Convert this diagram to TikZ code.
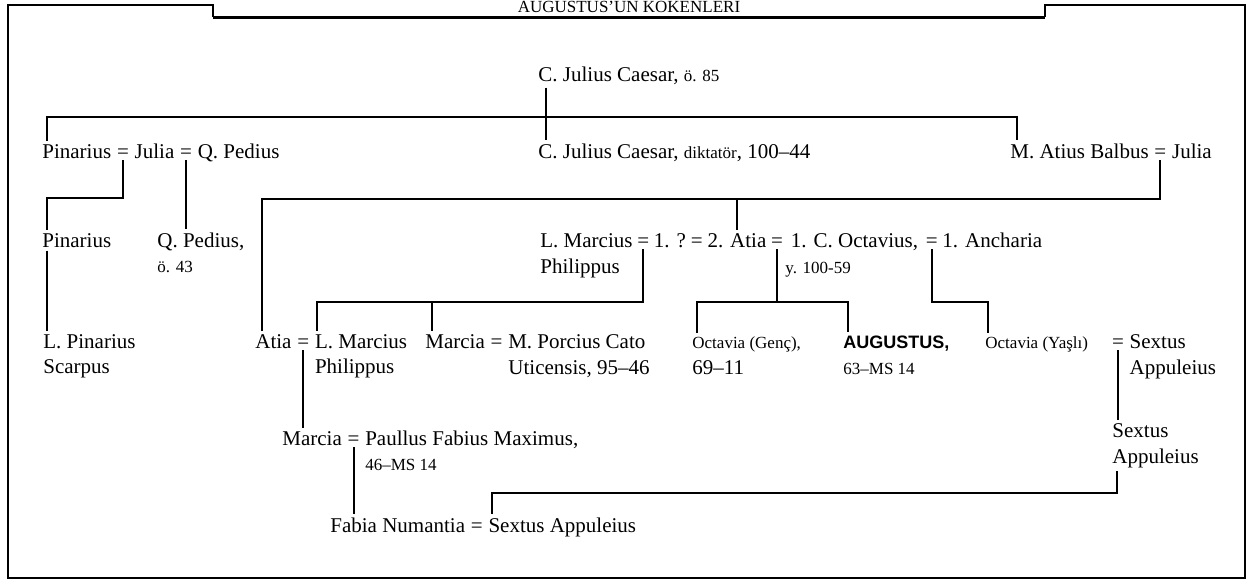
\documentclass[tikz,border=0pt]{standalone}
\usepackage{fontspec}
\setmainfont{Liberation Serif}
\newfontfamily\augfont{Liberation Sans}
\usetikzlibrary{positioning}
\newcommand{\sml}[1]{{\fontsize{8.5}{10}\selectfont #1}}
\tikzstyle{nm}=[inner xsep=0pt, inner ysep=1.5pt, anchor=base west,
		font=\fontsize{10.5}{12}\selectfont]
\tikzstyle{sm}=[inner xsep=0pt, inner ysep=1.5pt, anchor=base west,
		font=\fontsize{8.5}{10}\selectfont]
\tikzstyle{aug}=[inner xsep=0pt, inner ysep=1.5pt, anchor=base west,
		font=\augfont\bfseries\fontsize{9}{10}\selectfont]
\tikzstyle{eq}=[inner xsep=0.5pt, inner ysep=1pt, anchor=base,
		font=\fontsize{10.5}{12}\selectfont]
\tikzstyle{ttl}=[inner sep=0pt, anchor=base, font=\fontsize{8.5}{10}\selectfont]
\tikzstyle{ln}=[line width=1pt]
\tikzstyle{frm}=[line width=0.8pt]

\begin{document}
\begin{tikzpicture}[x=0.5pt, y=-0.5pt, node distance=1.5pt]
	\useasboundingbox (0,0) rectangle (1253,580);
	% frame and title
	\node[ttl] (ttl) at (629,12) {AUGUSTUS'UN KÖKENLERİ};
	\draw[frm] (213,17) -- (213,5) -- (8,5) -- (8,578) -- (1245,578) -- (1245,5) -- (1045,5) -- (1045,17);
	\draw[line width=1.5pt] (213,17) -- (1045,17);
	% generation 0 and 1
	\node[nm] (cjcA) at (538,81) {C. Julius Caesar, \sml{ö. 85}};
	\node[nm] (pinA) at (42,158) {Pinarius};
	\node[eq, base right=2pt of pinA] (eqA1) {=};
	\node[nm, base right=2pt of eqA1] (juliaA) {Julia};
	\node[eq, base right=2pt of juliaA] (eqA2) {=};
	\node[nm, base right=2pt of eqA2] (pedA) {Q. Pedius};
	\node[nm] (cjcB) at (538,158) {C. Julius Caesar, \sml{diktatör}, 100–44};
	\node[nm] (balbus) at (1010,158) {M. Atius Balbus};
	\node[eq, base right=2pt of balbus] (eqB) {=};
	\node[nm, base right=2pt of eqB] (juliaB) {Julia};
	% generation 2
	\node[nm] (pinB) at (42,247) {Pinarius};
	\node[nm] (pedB) at (157,247) {Q. Pedius,};
	\node[sm] (pedBd) at (157,272) {ö. 43};
	\node[nm] (marc) at (540,247) {L. Marcius};
	\node[nm] (marcB) at (540,273) {Philippus};
	\node[eq, base right=of marc] (eqC1) {=};
	\node[nm, base right=of eqC1] (unk) {1. ?};
	\node[eq, base right=of unk] (eqC2) {=};
	\node[nm, base right=of eqC2] (atiaA) {2. Atia};
	\node[eq, base right=of atiaA] (eqC3) {=};
	\node[nm, base right=3pt of eqC3] (octv) {1. C. Octavius,};
	\node[sm] (octvd) at (785,273) {y. 100-59};
	\node[eq, base right=3pt of octv] (eqC4) {=};
	\node[nm, base right=of eqC4] (anch) {1. Ancharia};
	% generation 3
	\node[nm] (lpin) at (43,348) {L. Pinarius};
	\node[nm] (lpinB) at (43,373) {Scarpus};
	\node[nm] (atiaB) at (255,348) {Atia};
	\node[eq, base right=2pt of atiaB] (eqD1) {=};
	\node[nm, base right=2pt of eqD1] (lmar) {L. Marcius};
	\node[nm] (lmarB) at (lmar.west |- 0,373) {Philippus};
	\node[nm] (marcia) at (425,348) {Marcia};
	\node[eq, base right=2pt of marcia] (eqD2) {=};
	\node[nm, base right=2pt of eqD2] (cato) {M. Porcius Cato};
	\node[nm, anchor=base east] (catoB) at (650,374) {Uticensis, 95–46};
	\node[sm] (octy) at (692,348) {Octavia (Genç),};
	\node[nm] (octyB) at (692,374) {69–11};
	\node[aug] (aug) at (843,348) {AUGUSTUS,};
	\node[sm] (augB) at (843,374) {63–MS 14};
	\node[sm] (octe) at (985,348) {Octavia (Yaşlı)};
	\node[eq] (eqD3) at (1118,348) {=};
	\node[nm, base right=2pt of eqD3] (sexA) {Sextus};
	\node[nm] (sexAB) at (sexA.west |- 0,374) {Appuleius};
	% generation 4 and 5
	\node[nm] (marc2) at (282,445) {Marcia};
	\node[eq, base right=2pt of marc2] (eqE) {=};
	\node[nm, base right=2pt of eqE] (paul) {Paullus Fabius Maximus,};
	\node[sm] (paulB) at (paul.west |- 0,470) {46–MS 14};
	\node[nm] (sexB) at (1112,437) {Sextus};
	\node[nm] (sexBB) at (1112,463) {Appuleius};
	\node[nm] (fab) at (330,532) {Fabia Numantia};
	\node[eq, base right=2pt of fab] (eqF) {=};
	\node[nm, base right=2pt of eqF] (sexC) {Sextus Appuleius};
	% bus lines
	\coordinate (busA) at (0,117);
	\coordinate (busB) at (0,198);
	\coordinate (busC) at (0,199);
	\coordinate (busD) at (0,302);
	\coordinate (busE) at (0,493);
	% drop points
	\coordinate (dA) at ([xshift=2.5pt]pinA.north west);
	\coordinate (dB) at ([xshift=3.5pt]balbus.north west);
	\coordinate (dC) at ([xshift=2.5pt]pinB.north west);
	\coordinate (dD) at ([xshift=15pt]atiaA.north west);
	\coordinate (dAt) at ([xshift=3.5pt]atiaB.north west);
	\coordinate (dE) at ([xshift=1pt]lmar.north west);
	\coordinate (dF) at ([xshift=3.5pt]marcia.north west);
	\coordinate (dG) at ([xshift=2.5pt]octy.north west);
	\coordinate (dH) at ([xshift=2.5pt]aug.north west);
	\coordinate (dI) at ([xshift=1.5pt]octe.north west);
	\coordinate (dJ) at ([xshift=2.5pt]sexBB.south west);
	\coordinate (dK) at ([xshift=2pt]sexC.north west);
	\coordinate (dL) at ([xshift=2.5pt]pinB.south west);
	% connectors
	\draw[ln] ([xshift=4pt]cjcA.south west) -- ([xshift=4pt]cjcB.north west);
	\draw[ln] (dA) -- (dA |- busA) -- (dB |- busA) -- (dB);
	\draw[ln] (eqA1.south) -- (eqA1 |- busB) -| (dC);
	\draw[ln] (eqA2.south) -- (eqA2 |- pedB.north);
	\draw[ln] (eqB.south) -- (eqB |- busC) -| (dAt);
	\draw[ln] (dD |- busC) -- (dD);
	\draw[ln] (dL) -- (dL |- lpin.north);
	\draw[ln] (eqC1.south) -- (eqC1 |- busD) -| (dE);
	\draw[ln] (dF |- busD) -- (dF);
	\draw[ln] (eqC3.south) -- (eqC3 |- busD);
	\draw[ln] (dG) -- (dG |- busD) -- (dH |- busD) -- (dH);
	\draw[ln] (eqC4.south) -- (eqC4 |- busD) -| (dI);
	\draw[ln] (eqD1.south) -- (eqD1 |- marc2.north);
	\draw[ln] (eqE.south) -- (eqE |- fab.north);
	\draw[ln] (eqD3.south) -- (eqD3 |- sexB.north);
	\draw[ln] (dJ) -- (dJ |- busE) -- (dK |- busE) -- (dK);
\end{tikzpicture}
\end{document}
